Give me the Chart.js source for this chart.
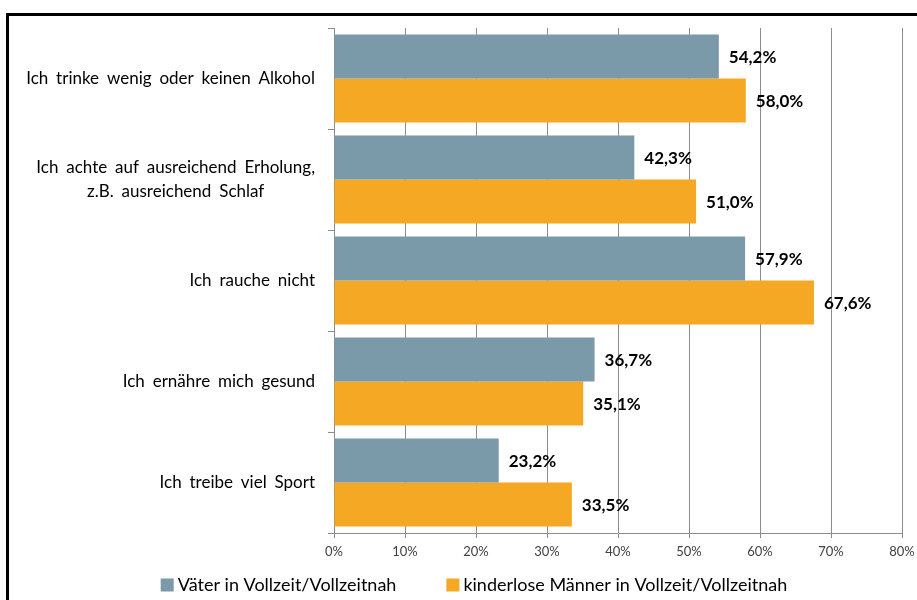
<!DOCTYPE html>
<html>
<head>
<meta charset="utf-8">
<script src="https://cdn.jsdelivr.net/npm/chart.js@4.4.1/dist/chart.umd.min.js"></script>
<style>
  html, body { margin: 0; padding: 0; background: #fff; overflow: hidden; }
  #wrap { position: relative; width: 917px; height: 600px; }
  #frame { position: absolute; left: 6px; top: 13px; width: 1000px; height: 700px;
           border-left: 3px solid #000; border-top: 3px solid #000; }
  canvas { position: absolute; left: 0; top: 0; }
</style>
</head>
<body>
<div id="wrap">
  <div id="frame"></div>
  <canvas id="healthChart" width="917" height="600"></canvas>
</div>
<script>
// Gesundheitsverhalten von Männern in Vollzeit (Anteile in %)
const categories = [
  ['Ich trinke wenig oder keinen Alkohol'],
  ['Ich achte auf ausreichend Erholung,', 'z.B. ausreichend Schlaf'],
  ['Ich rauche nicht'],
  ['Ich ernähre mich gesund'],
  ['Ich treibe viel Sport']
];
const vaeterValues = [54.2, 42.3, 57.9, 36.7, 23.2];
const kinderloseValues = [58.0, 51.0, 67.6, 35.1, 33.5];
const seriesNames = ['Väter in Vollzeit/Vollzeitnah', 'kinderlose Männer in Vollzeit/Vollzeitnah'];
const seriesColors = ['#7a99a9', '#f5a824'];
const tickValues = [0, 10, 20, 30, 40, 50, 60, 70, 80];

const FONT = 'Lato, "Open Sans", sans-serif';

function formatPct(v) {
  return v.toFixed(1).replace('.', ',') + '%';
}

// category labels: block right-aligned, lines centred inside the block
const categoryLabels = {
  id: 'categoryLabels',
  afterDraw(chart) {
    const ctx = chart.ctx;
    const yScale = chart.scales.y;
    ctx.save();
    ctx.font = '17px ' + FONT;
    if ('wordSpacing' in ctx) ctx.wordSpacing = '3.5px';
    ctx.fillStyle = '#000';
    ctx.textAlign = 'center';
    ctx.textBaseline = 'middle';
    const right = yScale.right - 19;
    const lineHeight = 24;
    chart.data.labels.forEach((lines, i) => {
      const yc = yScale.getPixelForValue(i);
      const w = Math.max(...lines.map(l => ctx.measureText(l).width));
      const cx = right - w / 2;
      lines.forEach((l, j) => {
        ctx.fillText(l, cx, yc + (j - (lines.length - 1) / 2) * lineHeight);
      });
    });
    ctx.restore();
  }
};

// value labels right of each bar
const valueLabels = {
  id: 'valueLabels',
  afterDatasetsDraw(chart) {
    const ctx = chart.ctx;
    ctx.save();
    ctx.font = 'bold 17px ' + FONT;
    ctx.fillStyle = '#000';
    ctx.textAlign = 'left';
    ctx.textBaseline = 'middle';
    chart.data.datasets.forEach((ds, di) => {
      chart.getDatasetMeta(di).data.forEach((bar, i) => {
        ctx.fillText(formatPct(ds.data[i]), bar.x + 10, bar.y + 1);
      });
    });
    ctx.restore();
  }
};

// legend at the bottom
const bottomLegend = {
  id: 'bottomLegend',
  afterDraw(chart) {
    const ctx = chart.ctx;
    ctx.save();
    ctx.font = '18px ' + FONT;
    ctx.textBaseline = 'middle';
    ctx.textAlign = 'left';
    const box = 13, boxGap = 4, itemGap = 50;
    const items = chart.data.datasets.map(ds => ({
      text: ds.label, color: ds.backgroundColor, w: box + boxGap + ctx.measureText(ds.label).width
    }));
    const total = items.reduce((s, it) => s + it.w, 0) + itemGap * (items.length - 1);
    let x = 474 - total / 2;
    const y = 585;
    items.forEach(it => {
      ctx.fillStyle = it.color;
      ctx.fillRect(x, y - box / 2, box, box);
      ctx.fillStyle = '#000';
      ctx.fillText(it.text, x + box + boxGap, y);
      x += it.w + itemGap;
    });
    ctx.restore();
  }
};

function renderChart() {
  const ctx = document.getElementById('healthChart').getContext('2d');
  new Chart(ctx, {
    type: 'bar',
    data: {
      labels: categories,
      datasets: [
        { label: seriesNames[0], data: vaeterValues, backgroundColor: seriesColors[0] },
        { label: seriesNames[1], data: kinderloseValues, backgroundColor: seriesColors[1] }
      ]
    },
    options: {
      indexAxis: 'y',
      responsive: false,
      animation: false,
      categoryPercentage: 0.87,
      barPercentage: 1.0,
      layout: { padding: { top: 28, right: 15, left: 30, bottom: 37 } },
      plugins: {
        legend: { display: false },
        tooltip: { enabled: false }
      },
      scales: {
        x: {
          min: 0,
          max: 80,
          afterBuildTicks(scale) {
            scale.ticks = tickValues.map(v => ({ value: v }));
          },
          afterFit(scale) {
            scale.height = 30;
            scale.paddingRight = 0;
          },
          ticks: {
            callback: v => v + '%',
            color: '#404040',
            font: { family: FONT, size: 13 },
            padding: 6,
            maxRotation: 0
          },
          grid: { color: '#8c8c8c', tickLength: 5 },
          border: { color: '#8c8c8c' }
        },
        y: {
          afterFit(scale) { scale.width = 304; },
          ticks: { display: false },
          grid: { drawOnChartArea: false, offset: true, tickLength: 6, color: '#8c8c8c' },
          border: { color: '#8c8c8c' }
        }
      }
    },
    plugins: [categoryLabels, valueLabels, bottomLegend]
  });
}

window.onload = function() {
  renderChart();
};
</script>
</body>
</html>
